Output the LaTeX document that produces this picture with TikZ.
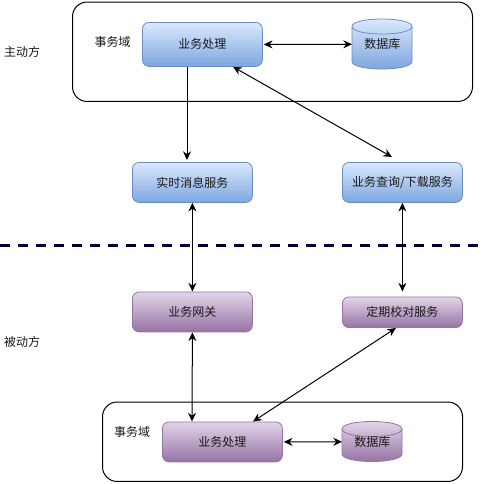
\documentclass[tikz,border=0pt]{standalone}
\usepackage{fontspec}
\setmainfont{Noto Sans CJK SC}
\usetikzlibrary{arrows.meta,calc}
\definecolor{bluetop}{HTML}{DAE8FC}
\definecolor{bluebot}{HTML}{7EA6E0}
\definecolor{blueline}{HTML}{6C8EBF}
\definecolor{purptop}{HTML}{E1D5E7}
\definecolor{purpbot}{HTML}{9673A6}
\definecolor{sepline}{HTML}{000033}
\tikzset{
  x=0.75pt,y=-0.75pt,
  every node/.style={font=\fontsize{9pt}{11pt}\selectfont,text=black!90},
  domainbox/.style={draw=black,line width=0.75pt,rounded corners=11pt,fill=none,anchor=north west,inner sep=0pt},
  svcbox/.style={rounded corners=5pt,line width=0.6pt,anchor=north west,inner sep=0pt,text width=90pt,align=center,minimum width=90pt},
  bluefill/.style={draw=blueline,top color=bluetop,bottom color=bluebot,middle color=bluetop!50!bluebot},
  purpfill/.style={draw=purpbot,top color=purptop,bottom color=purpbot,middle color=purptop!50!purpbot},
  link/.style={draw=black,line width=0.75pt,-{Stealth[length=6.5pt,width=6pt]}},
  both/.style={draw=black,line width=0.75pt,{Stealth[length=6.5pt,width=6pt]}-{Stealth[length=6.5pt,width=6pt]}},
  plainlabel/.style={inner sep=0pt},
  sep/.style={draw=sepline,line width=2.25pt,dash pattern=on 7.5pt off 6pt}
}
% cylinder: #1 fill style, (#2,#3) top-left, #4 height, #5 node name, #6 text
\newcommand{\dbcyl}[6]{%
  \path[#1,line width=0.6pt] (#2,#3+7.5)
    .. controls (#2,#3+3) and (#2+13,#3) .. (#2+30,#3)
    .. controls (#2+47,#3) and (#2+60,#3+3) .. (#2+60,#3+7.5)
    -- (#2+60,#3+#4-7.5)
    .. controls (#2+60,#3+#4-3) and (#2+47,#3+#4) .. (#2+30,#3+#4)
    .. controls (#2+13,#3+#4) and (#2,#3+#4-3) .. (#2,#3+#4-7.5) -- cycle;
  \draw[#1,shade=none,fill=none,line width=0.6pt] (#2,#3+7.5)
    .. controls (#2,#3+12) and (#2+13,#3+15) .. (#2+30,#3+15)
    .. controls (#2+47,#3+15) and (#2+60,#3+12) .. (#2+60,#3+7.5);
  \node[minimum width=45pt,minimum height=#4*0.75pt,inner sep=0pt,anchor=north west] (#5) at (#2,#3) {\raisebox{-2pt}{#6}};
}
\begin{document}
\begin{tikzpicture}
\useasboundingbox (0,0) rectangle (485,483);
\node[domainbox,minimum width=300pt,minimum height=74.6pt] (domA) at (72,1.5) {};
\node[domainbox,minimum width=270pt,minimum height=59.6pt] (domB) at (102,401.5) {};

\node[svcbox,bluefill,minimum height=33pt] (bizA) at (142,22) {业务处理};
\dbcyl{bluefill}{352}{19}{50}{dbA}{数据库}
\node[svcbox,bluefill,minimum height=30pt] (rt) at (132,162) {实时消息服务};
\node[svcbox,bluefill,minimum height=30pt] (query) at (342,162) {业务查询/下载服务};

\node[svcbox,purpfill,minimum height=30pt] (gw) at (132,291.5) {业务网关};
\node[svcbox,purpfill,minimum height=23pt] (timer) at (342,296.5) {定期校对服务};
\node[svcbox,purpfill,minimum height=30pt] (bizB) at (162,421.5) {业务处理};
\dbcyl{purpfill}{342}{421.5}{40}{dbB}{数据库}

\node[plainlabel] (l1) at (112.5,42) {事务域};
\node[plainlabel] (l2) at (132,432) {事务域};
\node[plainlabel] (l3) at (22,51.5) {主动方};
\node[plainlabel] (l4) at (22,341.5) {被动方};

\coordinate (sepL) at (0,245);
\coordinate (sepR) at (482,245);
\draw[sep] (sepL) -- (sepR);

\coordinate (qTop) at ($(query.north west)+(50,-5)$);
\coordinate (tTop) at ($(timer.north)+(0,-5)$);
\coordinate (rtTop) at ($(rt.north west)+(55,-2)$);

\draw[both] (bizA.east) ++(1,0) -- (dbA.west);
\draw[link] (bizA.south west) ++(45,0) -- (rtTop);
\draw[both] ($(bizA.south west)+(91,0)$) -- (qTop);
\draw[both] (rt.south) -- (gw.north);
\draw[both] (query.south) -- (tTop);
\draw[both] (gw.south) -- ($(bizB.north west)+(30,0)$);
\draw[both] ($(timer.south west)+(54,0)$) -- ($(bizB.north west)+(91,0)$);
\draw[both] (bizB.east) ++(1,0) -- (dbB.west);
\end{tikzpicture}
\end{document}
